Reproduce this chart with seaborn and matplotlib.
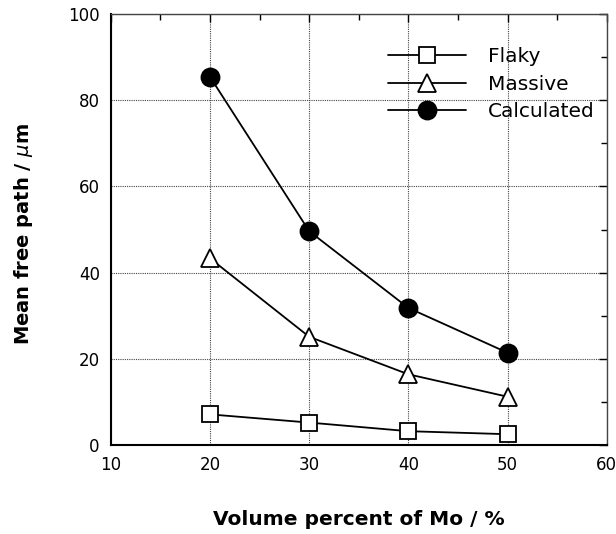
import numpy as np
import pandas as pd
import matplotlib
matplotlib.use("Agg")
import matplotlib.pyplot as plt
import seaborn as sns
from matplotlib.ticker import MultipleLocator

# ============================================================
# DATA
# ============================================================

vol_mo = [20, 30, 40, 50]
flaky = [7.1, 5.2, 3.2, 2.5]
massive = [43.3, 25.1, 16.4, 11.2]
calculated = [85.4, 49.6, 31.8, 21.4]

series_names = ["Flaky", "Massive", "Calculated"]

df = pd.DataFrame({
    "x": vol_mo * 3,
    "y": flaky + massive + calculated,
    "series": np.repeat(series_names, len(vol_mo)),
})

# ============================================================
# STYLE
# ============================================================

sns.set_style("white")
plt.rcParams["font.family"] = ["DejaVu Sans"]
plt.rcParams["text.color"] = "black"
plt.rcParams["axes.labelcolor"] = "black"

fig = plt.figure(figsize=(6.16, 5.34), dpi=100)
ax = fig.add_axes([0.180, 0.1667, 0.805, 0.807])

styles = {
    "Flaky": dict(marker="s", markersize=12, markerfacecolor="white"),
    "Massive": dict(marker="^", markersize=13, markerfacecolor="white"),
    "Calculated": dict(marker="o", markersize=13, markerfacecolor="black"),
}

for name in series_names:
    sub = df[df["series"] == name]
    sns.lineplot(
        data=sub,
        x="x",
        y="y",
        ax=ax,
        color="black",
        linewidth=1.3,
        markeredgecolor="black",
        markeredgewidth=1.3,
        label=name,
        **styles[name],
    )

ax.set_xlim(10, 60)
ax.set_ylim(0, 100)
ax.xaxis.set_major_locator(MultipleLocator(10))
ax.xaxis.set_minor_locator(MultipleLocator(5))
ax.yaxis.set_major_locator(MultipleLocator(20))
ax.yaxis.set_minor_locator(MultipleLocator(10))

ax.grid(True, which="major", color="#444444", linestyle=(0, (1, 1)), linewidth=0.8)

ax.tick_params(which="both", direction="in", top=True, right=True,
               labelsize=12, colors="black")
ax.tick_params(which="major", length=6, width=1, pad=8)
ax.tick_params(which="minor", length=4, width=1)

for side in ["left", "bottom"]:
    ax.spines[side].set_color("black")
    ax.spines[side].set_linewidth(1.5)
for side in ["top", "right"]:
    ax.spines[side].set_color("#444444")
    ax.spines[side].set_linestyle((0, (1, 1)))
    ax.spines[side].set_linewidth(1.0)

ax.set_xlabel("Volume percent of Mo / %", fontsize=14.5, fontweight="bold")
ax.set_ylabel("Mean free path / $\\mu$m", fontsize=14, fontweight="bold")
ax.xaxis.set_label_coords(0.5, -0.151)
ax.yaxis.set_label_coords(-0.153, 0.49)

ax.legend(
    loc="upper left",
    bbox_to_anchor=(0.558, 0.923),
    frameon=False,
    fontsize=14.5,
    handlelength=3.9,
    labelspacing=0.42,
    handletextpad=1.1,
    borderpad=0,
    borderaxespad=0,
)

fig.savefig("out.png", dpi=100)
